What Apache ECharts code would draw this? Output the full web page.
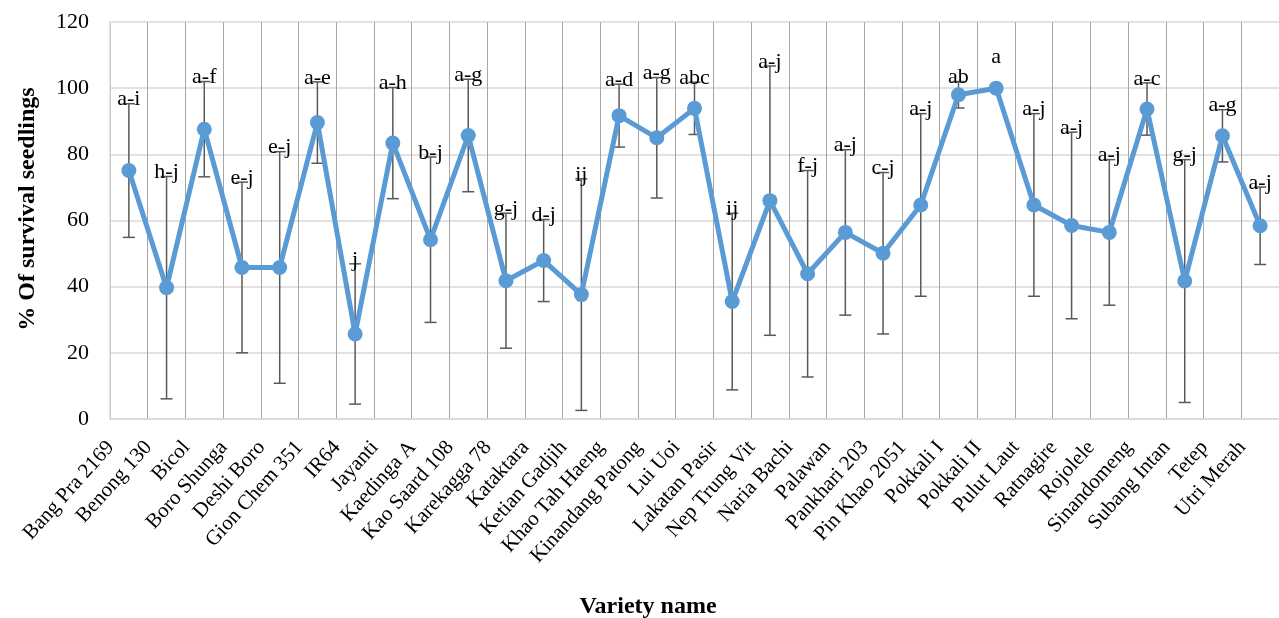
<!DOCTYPE html>
<html>
<head>
<meta charset="utf-8">
<script src="https://cdn.jsdelivr.net/npm/echarts@6/dist/echarts.min.js"></script>
<style>
  html, body { margin: 0; padding: 0; background: #fff; }
  #chart { width: 1279px; height: 618px; }
</style>
</head>
<body>
<div id="chart"></div>
<script>
// Rice varieties and their seedling survival (%), with standard deviation and significance letters
const varieties = ['Bang Pra 2169', 'Benong 130', 'Bicol', 'Boro Shunga', 'Deshi Boro', 'Gion Chem 351', 'IR64',
  'Jayanti', 'Kaedinga A', 'Kao Saard 108', 'Karekagga 78', 'Kataktara', 'Ketian Gadjih', 'Khao Tah Haeng',
  'Kinandang Patong', 'Lui Uoi', 'Lakatan Pasir', 'Nep Trung Vit', 'Naria Bachi', 'Palawan', 'Pankhari 203',
  'Pin Khao 2051', 'Pokkali I', 'Pokkali II', 'Pulut Laut', 'Ratnagire', 'Rojolele', 'Sinandomeng',
  'Subang Intan', 'Tetep', 'Utri Merah'];

const survival = [75.1, 39.7, 87.6, 45.8, 45.8, 89.6, 25.7, 83.4, 54.2, 85.7, 41.8, 47.9, 37.6, 91.7, 85.0,
  93.9, 35.5, 66.0, 43.9, 56.4, 50.1, 64.7, 98.0, 100, 64.7, 58.5, 56.4, 93.7, 41.7, 85.6, 58.4];

const stdDev = [20.2, 33.6, 14.4, 25.8, 35.0, 12.3, 21.2, 16.8, 25.0, 17.0, 20.4, 12.4, 35.0, 9.5, 18.2,
  7.9, 26.7, 40.7, 31.2, 25.0, 24.4, 27.6, 4.0, 0, 27.6, 28.2, 22.0, 7.9, 36.7, 7.9, 11.7];

const letters = ['a-i', 'h-j', 'a-f', 'e-j', 'e-j', 'a-e', 'j', 'a-h', 'b-j', 'a-g', 'g-j', 'd-j', 'ij', 'a-d',
  'a-g', 'abc', 'ij', 'a-j', 'f-j', 'a-j', 'c-j', 'a-j', 'ab', 'a', 'a-j', 'a-j', 'a-j', 'a-c', 'g-j', 'a-g', 'a-j'];

const yTicks = { min: 0, max: 120, interval: 20 };

const serif = '"Liberation Serif", "Times New Roman", serif';

const errorData = varieties.map((name, i) => [i, survival[i] - stdDev[i], survival[i] + stdDev[i], stdDev[i]]);
const letterData = varieties.map((name, i) => [i, survival[i], survival[i] + stdDev[i], stdDev[i]]);

const chart = echarts.init(document.getElementById('chart'));

chart.setOption({
  animation: false,
  backgroundColor: '#fff',
  grid: { left: 110, right: -7, top: 22, bottom: 199, containLabel: false },
  xAxis: {
    type: 'category',
    data: varieties,
    boundaryGap: true,
    axisLine: { show: true, lineStyle: { color: '#D9D9D9', width: 1.5 } },
    axisTick: { show: false },
    splitLine: { show: true, lineStyle: { color: '#A6A6A6', width: 1 } },
    axisLabel: {
      interval: 0,
      rotate: 48,
      margin: 5,
      padding: [0, 27, 0, 0],
      color: '#000',
      fontFamily: serif,
      fontSize: 21
    }
  },
  yAxis: {
    type: 'value',
    min: yTicks.min,
    max: yTicks.max,
    interval: yTicks.interval,
    axisLine: { show: true, lineStyle: { color: '#D9D9D9', width: 1.5 } },
    axisTick: { show: false },
    splitLine: { show: true, lineStyle: { color: '#D9D9D9', width: 1.5 } },
    axisLabel: { margin: 21, color: '#000', fontFamily: serif, fontSize: 22 }
  },
  graphic: [
    {
      type: 'text',
      x: 28, y: 209,
      rotation: Math.PI / 2,
      style: {
        text: '% Of survival seedlings',
        font: 'bold 24px ' + serif,
        fill: '#000',
        textAlign: 'center',
        textVerticalAlign: 'middle'
      }
    },
    {
      type: 'text',
      x: 648, y: 607,
      style: {
        text: 'Variety name',
        font: 'bold 24px ' + serif,
        fill: '#000',
        textAlign: 'center',
        textVerticalAlign: 'middle'
      }
    }
  ],
  series: [
    {
      // standard deviation whiskers
      type: 'custom',
      z: 1,
      data: errorData,
      encode: { x: 0, y: [1, 2] },
      renderItem: function (params, api) {
        if (api.value(3) <= 0) return null;
        const x = api.coord([api.value(0), 0])[0];
        const lo = api.coord([api.value(0), api.value(1)])[1];
        const hi = api.coord([api.value(0), api.value(2)])[1];
        const half = 6;
        const style = { stroke: '#595959', lineWidth: 1.5, fill: null };
        return {
          type: 'group',
          children: [
            { type: 'line', shape: { x1: x, y1: lo, x2: x, y2: hi }, style: style },
            { type: 'line', shape: { x1: x - half, y1: lo, x2: x + half, y2: lo }, style: style },
            { type: 'line', shape: { x1: x - half, y1: hi, x2: x + half, y2: hi }, style: style }
          ]
        };
      }
    },
    {
      type: 'line',
      z: 3,
      data: survival,
      symbol: 'circle',
      symbolSize: 15,
      lineStyle: { color: '#5B9BD5', width: 5 },
      itemStyle: { color: '#5B9BD5' }
    },
    {
      // significance letters above each whisker
      type: 'custom',
      z: 5,
      data: letterData,
      encode: { x: 0, y: 2 },
      renderItem: function (params, api) {
        const i = params.dataIndex;
        const x = api.coord([api.value(0), 0])[0];
        let y;
        if (api.value(3) > 0) {
          y = api.coord([api.value(0), api.value(2)])[1] - 4;
        } else {
          y = api.coord([api.value(0), api.value(1)])[1] - 31;
        }
        return {
          type: 'text',
          x: x, y: y,
          style: {
            text: letters[i],
            font: '22px ' + serif,
            fill: '#000',
            textAlign: 'center',
            textVerticalAlign: 'middle'
          }
        };
      }
    }
  ]
});
</script>
</body>
</html>
